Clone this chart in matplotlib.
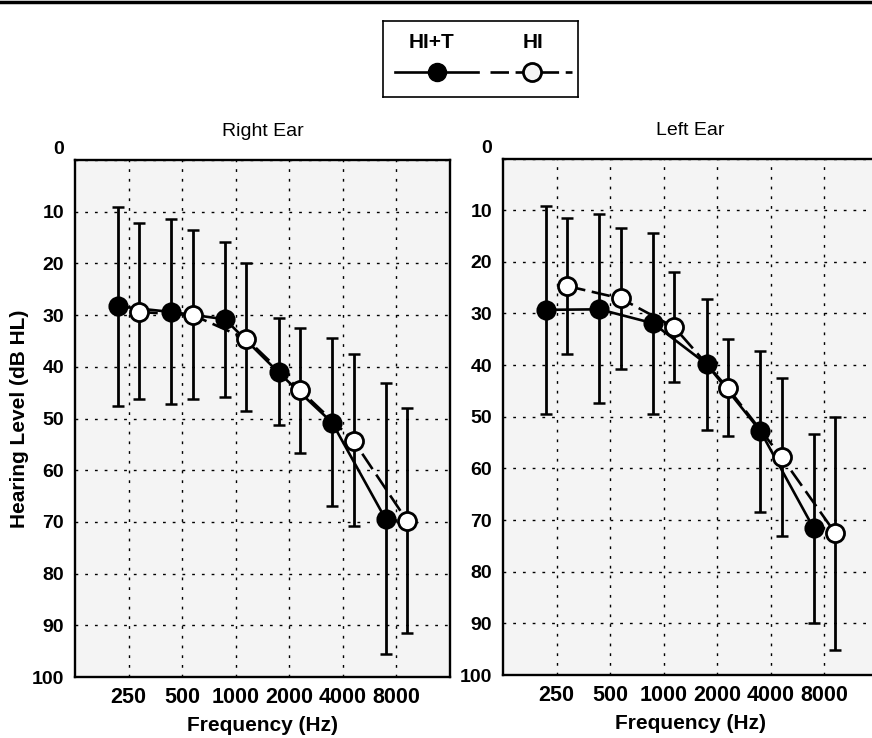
import matplotlib
matplotlib.use("Agg")
import matplotlib.pyplot as plt
from matplotlib.lines import Line2D
from matplotlib.transforms import ScaledTranslation
import numpy as np

plt.rcParams['font.family'] = ['Liberation Sans', 'DejaVu Sans']

freqs = ['250', '500', '1000', '2000', '4000', '8000']
panels = ['Right Ear', 'Left Ear']

# Right ear: mean, upper whisker (lower dB), lower whisker (higher dB)
right_hit_mean = [28.3, 29.4, 30.8, 41.1, 50.8, 69.5]
right_hit_top = [9.0, 11.5, 15.9, 30.5, 34.5, 43.2]
right_hit_bot = [47.5, 47.2, 45.9, 51.3, 67.0, 95.6]
right_hi_mean = [29.4, 30.0, 34.6, 44.5, 54.3, 69.8]
right_hi_top = [12.1, 13.5, 20.0, 32.4, 37.6, 48.0]
right_hi_bot = [46.3, 46.3, 48.5, 56.6, 70.8, 91.4]

# Left ear
left_hit_mean = [29.3, 29.2, 31.9, 39.8, 52.7, 71.6]
left_hit_top = [9.2, 10.7, 14.5, 27.2, 37.2, 53.4]
left_hit_bot = [49.4, 47.4, 49.4, 52.5, 68.4, 90.0]
left_hi_mean = [24.7, 27.1, 32.7, 44.5, 57.8, 72.5]
left_hi_top = [11.6, 13.5, 21.9, 35.0, 42.5, 50.0]
left_hi_bot = [37.8, 40.8, 43.3, 53.7, 73.1, 95.1]

yticks = [0, 10, 20, 30, 40, 50, 60, 70, 80, 90, 100]

W, H = 872, 738
fig = plt.figure(figsize=(W / 100, H / 100), dpi=100)

def fx(px):
    return px / W

def fy(py):
    return 1 - py / H

ax_r = fig.add_axes([fx(75), fy(677), fx(450 - 75), fy(160) - fy(677)])
ax_l = fig.add_axes([fx(503), fy(675), fx(375), fy(158.5) - fy(675)])

data = [
    (ax_r, right_hit_mean, right_hit_top, right_hit_bot, right_hi_mean, right_hi_top, right_hi_bot),
    (ax_l, left_hit_mean, left_hit_top, left_hit_bot, left_hi_mean, left_hi_top, left_hi_bot),
]

pos = np.arange(1, len(freqs) + 1)
off = 0.2
DASH = (7, 2.5)

for (ax, hm, ht, hb, om, ot, ob), title in zip(data, panels):
    ax.set_facecolor('#f4f4f4')
    hm = np.array(hm); ht = np.array(ht); hb = np.array(hb)
    om = np.array(om); ot = np.array(ot); ob = np.array(ob)
    xh = pos - off
    xo = pos + off
    # error bars
    ax.errorbar(xh, hm, yerr=[hm - ht, hb - hm], fmt='none', ecolor='black',
                elinewidth=2.0, capsize=4.3, capthick=1.8, zorder=3)
    ax.errorbar(xo, om, yerr=[om - ot, ob - om], fmt='none', ecolor='black',
                elinewidth=2.0, capsize=4.3, capthick=1.8, zorder=3)
    # lines
    ax.plot(xh, hm, color='black', lw=1.9, zorder=4)
    ax.plot(xo, om, color='black', lw=1.9, dashes=DASH, zorder=4)
    # markers
    ax.plot(xh, hm, 'o', ms=13, mfc='black', mec='black', mew=1.5, zorder=5)
    ax.plot(xo, om, 'o', ms=13, mfc='white', mec='black', mew=2.0, zorder=6)

    ax.set_xlim(0, 7)
    ax.set_ylim(100, 0)
    ax.set_xticks(pos)
    ax.set_xticklabels(freqs, fontsize=15.5, fontweight='bold')
    ax.set_yticks(yticks)
    ax.set_yticklabels([str(t) for t in yticks], fontsize=14, fontweight='bold')
    ax.tick_params(length=0)
    ax.tick_params(axis='y', pad=8)
    ax.tick_params(axis='x', pad=7)
    ax.grid(True, color='black', linestyle=(0, (2, 5)), linewidth=1.0, zorder=1)
    ax.set_axisbelow(True)
    for sp in ax.spines.values():
        sp.set_linewidth(1.7)
    ax.set_title(title, fontsize=14, pad=17, fontweight='normal')
    ax.set_xlabel('Frequency (Hz)', fontsize=15, fontweight='bold', labelpad=6)
    # shift "0" label upward
    lab0 = ax.get_yticklabels()[0]
    lab0.set_transform(lab0.get_transform() + ScaledTranslation(0, 0.12, fig.dpi_scale_trans))

ax_r.set_ylabel('Hearing Level (dB HL)', fontsize=15, fontweight='bold', labelpad=2)

# top border line
fig.add_artist(Line2D([0, 1], [fy(1.5), fy(1.5)], color='black', lw=2.5, transform=fig.transFigure))

# legend box
lg = fig.add_axes([fx(383), fy(97), fx(195), fy(21) - fy(97)])
lg.set_xlim(383, 578)
lg.set_ylim(97, 21)
lg.set_xticks([]); lg.set_yticks([])
for sp in lg.spines.values():
    sp.set_linewidth(1.2)
lg.text(431, 42, 'HI+T', ha='center', va='center', fontsize=15, fontweight='bold')
lg.text(533, 42, 'HI', ha='center', va='center', fontsize=15, fontweight='bold')
lg.plot([395, 478], [72, 72], color='black', lw=1.9)
lg.plot([437], [72], 'o', ms=13, mfc='black', mec='black')
lg.plot([490, 572], [72, 72], color='black', lw=1.9, dashes=DASH)
lg.plot([532], [72], 'o', ms=13, mfc='#f4f4f4', mec='black', mew=2.0)

fig.savefig('out.png', dpi=100)
